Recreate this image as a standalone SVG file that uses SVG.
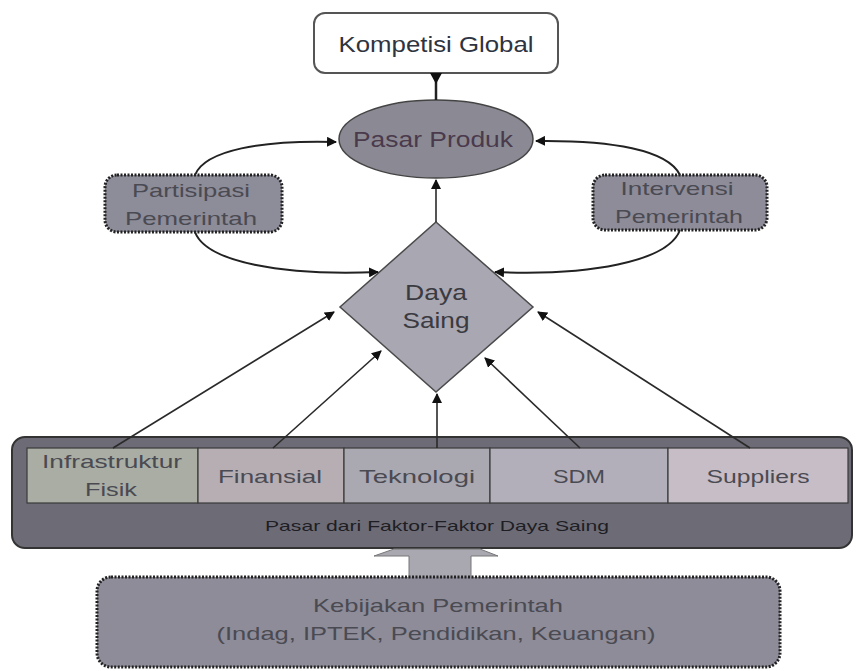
<svg xmlns="http://www.w3.org/2000/svg" width="856" height="671" viewBox="0 0 856 671">
  <defs>
    <marker id="tip" viewBox="0 0 10 10" refX="9" refY="5" markerWidth="10" markerHeight="10" markerUnits="userSpaceOnUse" orient="auto">
      <path d="M0,0 L10,5 L0,10 z" fill="#111"/>
    </marker>
  </defs>
  <style>
    text { font-family: "Liberation Sans", Arial, sans-serif; text-anchor: middle; }
    .lbl { font-size: 19px; fill: #4a4a52; }
    .dark { fill: #2e3440; }
    .dotted { stroke: #222; stroke-width: 3; stroke-dasharray: 2 1.5; }
    .link { fill: none; stroke: #2a2a2a; stroke-width: 1.6; marker-end: url(#tip); }
    .curve { fill: none; stroke: #222; stroke-width: 2; marker-end: url(#tip); }
    .cell { stroke: #3a3a3a; stroke-width: 1.2; }
  </style>

  <rect width="856" height="671" fill="#ffffff"/>

  <!-- top node -->
  <g id="kompetisi-global">
    <rect x="314" y="13" width="244" height="60" rx="11" fill="#ffffff" stroke="#555" stroke-width="2"/>
    <text x="436" y="52" class="dark" font-size="22" textLength="195" lengthAdjust="spacingAndGlyphs">Kompetisi Global</text>
  </g>

  <g id="pasar-produk">
    <ellipse cx="436" cy="139" rx="97" ry="39" fill="#8b8a94" stroke="#444" stroke-width="1.5"/>
    <text x="433" y="147" font-size="22" fill="#4a3a4c" textLength="160" lengthAdjust="spacingAndGlyphs">Pasar Produk</text>
  </g>

  <g id="partisipasi-pemerintah">
    <rect x="105" y="175" width="177" height="57" rx="12" fill="#8d8c99" class="dotted"/>
    <text x="191" y="197" class="lbl" textLength="118" lengthAdjust="spacingAndGlyphs">Partisipasi</text>
    <text x="191" y="225" class="lbl" textLength="132" lengthAdjust="spacingAndGlyphs">Pemerintah</text>
  </g>

  <g id="intervensi-pemerintah">
    <rect x="593" y="175" width="174" height="55" rx="12" fill="#8e8c98" class="dotted"/>
    <text x="677" y="195" class="lbl" textLength="113" lengthAdjust="spacingAndGlyphs">Intervensi</text>
    <text x="679" y="223" class="lbl" textLength="128" lengthAdjust="spacingAndGlyphs">Pemerintah</text>
  </g>

  <g id="daya-saing">
    <path d="M436,222 L533,307 L436,392 L340,307 z" fill="#a8a7b2" stroke="#4a4a4a" stroke-width="1.5"/>
    <text x="436" y="300" font-size="22" fill="#3a3a40" textLength="62" lengthAdjust="spacingAndGlyphs">Daya</text>
    <text x="436" y="328" font-size="22" fill="#3a3a40" textLength="67" lengthAdjust="spacingAndGlyphs">Saing</text>
  </g>

  <!-- factor market block -->
  <g id="pasar-faktor">
    <rect x="12" y="437" width="840" height="111" rx="13" fill="#6d6c76" stroke="#333" stroke-width="2"/>
    <text x="437" y="531" font-size="15" fill="#1e1e24" textLength="344" lengthAdjust="spacingAndGlyphs">Pasar dari Faktor-Faktor Daya Saing</text>
  </g>

  <g id="infrastruktur-fisik">
    <rect x="27" y="448" width="171" height="55" fill="#a9ada4" class="cell"/>
    <text x="112" y="468" class="lbl" textLength="140" lengthAdjust="spacingAndGlyphs">Infrastruktur</text>
    <text x="111" y="496" class="lbl" textLength="52" lengthAdjust="spacingAndGlyphs">Fisik</text>
  </g>
  <g id="finansial">
    <rect x="198" y="448" width="146" height="55" fill="#b6aeb3" class="cell"/>
    <text x="270" y="483" class="lbl" textLength="104" lengthAdjust="spacingAndGlyphs">Finansial</text>
  </g>
  <g id="teknologi">
    <rect x="344" y="448" width="146" height="55" fill="#aaa8b0" class="cell"/>
    <text x="417" y="483" class="lbl" textLength="116" lengthAdjust="spacingAndGlyphs">Teknologi</text>
  </g>
  <g id="sdm">
    <rect x="490" y="448" width="178" height="55" fill="#b2afba" class="cell"/>
    <text x="579" y="483" class="lbl" textLength="52" lengthAdjust="spacingAndGlyphs">SDM</text>
  </g>
  <g id="suppliers">
    <rect x="668" y="448" width="180" height="55" fill="#c6bdc6" class="cell"/>
    <text x="758" y="483" class="lbl" textLength="103" lengthAdjust="spacingAndGlyphs">Suppliers</text>
  </g>

  <!-- block arrow from policy to factor market -->
  <g id="policy-arrow">
    <path d="M409,578 L409,556 L374,556 L394,549 L480,549 L498,556 L471,556 L471,578 z" fill="#a9a8b1" stroke="#777" stroke-width="1"/>
  </g>

  <g id="kebijakan-pemerintah">
    <rect x="97" y="577" width="683" height="90" rx="14" fill="#8e8c98" class="dotted"/>
    <text x="438" y="612" class="lbl" fill="#40404a" textLength="250" lengthAdjust="spacingAndGlyphs">Kebijakan Pemerintah</text>
    <text x="436" y="640" class="lbl" textLength="439" lengthAdjust="spacingAndGlyphs">(Indag, IPTEK, Pendidikan, Keuangan)</text>
  </g>

  <!-- connectors -->
  <g id="connectors">
    <line x1="436" y1="100" x2="436" y2="74" stroke="#222" stroke-width="2.5"/>
    <path d="M430,73 L442,73 L436,84 z" fill="#111"/>
    <line x1="436" y1="222" x2="436" y2="180" class="link" stroke-width="2.5"/>
    <path d="M195,175 C205,150 262,140 336,142" class="curve"/>
    <path d="M680,175 C668,150 612,140 536,141" class="curve"/>
    <path d="M195,232 C206,262 282,276 378,272" class="curve"/>
    <path d="M680,230 C668,262 588,276 495,272" class="curve"/>
    <line x1="113" y1="448" x2="334" y2="312" class="link"/>
    <line x1="273" y1="448" x2="381" y2="351" class="link"/>
    <line x1="437" y1="448" x2="437" y2="394" class="link"/>
    <line x1="580" y1="448" x2="485" y2="358" class="link"/>
    <line x1="750" y1="448" x2="538" y2="312" class="link"/>
  </g>
</svg>
